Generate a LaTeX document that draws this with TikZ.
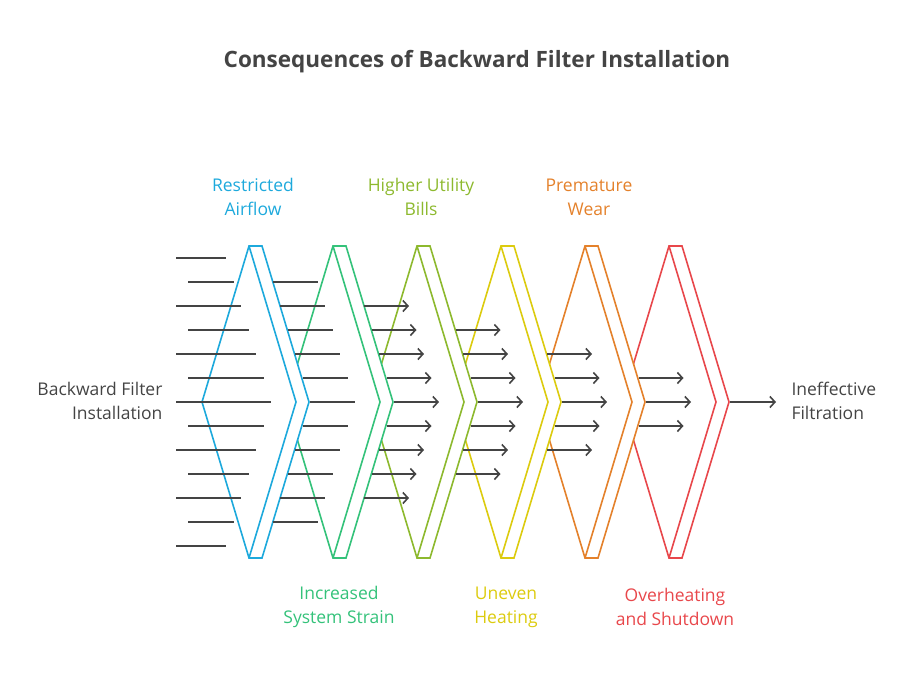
\documentclass[tikz,border=0pt]{standalone}
\usepackage{fontspec}
\setmainfont{Open Sans}
\usetikzlibrary{arrows.meta}
\definecolor{cB}{HTML}{1DA9DC}
\definecolor{cG}{HTML}{34C27A}
\definecolor{cL}{HTML}{8DB92E}
\definecolor{cY}{HTML}{DCCB0E}
\definecolor{cO}{HTML}{E4812B}
\definecolor{cR}{HTML}{E8474B}
\definecolor{tx}{HTML}{444444}
\begin{document}
\begin{tikzpicture}[x=1pt,y=-1pt,
  chev/.style={line width=1.6pt,line join=miter,fill=white},
  ln/.style={draw=tx,line width=1.6pt},
  ar/.style={ln,-{Straight Barb[length=5pt,width=11pt,line width=1.6pt]}},
  lab/.style={font=\fontsize{17.5}{24}\selectfont,align=center}]
\useasboundingbox (0,0) rectangle (916,678);
\node[font=\bfseries\fontsize{22.5}{26}\selectfont,text=tx] (title) at (477,62) {Consequences of Backward Filter Installation};
% chevrons, right to left
\foreach \k/\c in {5/cR,4/cO,3/cY,2/cL,1/cG,0/cB}{
  \pgfmathsetmacro{\xo}{249+84*\k}
  \draw[chev,draw=\c] (\xo,246) -- (\xo+13,246) -- (\xo+60,402) -- (\xo+13,558) -- (\xo,558) -- (\xo-47,402) -- cycle;
  \draw[chev,draw=\c,fill=none] (\xo,246) -- (\xo+47,402) -- (\xo,558);
}
% group 1
\foreach \j in {-6,...,6}{
  \pgfmathsetmacro{\yy}{402+24*\j}
  \pgfmathsetmacro{\xs}{isodd(\j)?188:176}
  \pgfmathsetmacro{\xe}{271-7.5*abs(\j)}
  \draw[ln] (\xs,\yy) -- (\xe,\yy);
}
% group 2
\foreach \j in {-5,...,5}{
  \pgfmathsetmacro{\yy}{402+24*\j}
  \pgfmathsetmacro{\xs}{310-7.5*abs(\j)}
  \draw[ln] (\xs,\yy) -- (\xs+45,\yy);
}
% groups with arrows
\foreach \k/\n in {2/4,3/3,4/2,5/1}{
  \foreach \j in {-\n,...,\n}{
    \pgfmathsetmacro{\yy}{402+24*\j}
    \pgfmathsetmacro{\xs}{310+84*(\k-1)-7.5*abs(\j)}
    \draw[ar] (\xs,\yy) -- (\xs+45,\yy);
  }
}
\coordinate (a0) at (730,402);
\coordinate (a1) at (776,402);
\draw[ar] (a0) -- (a1);
\node[lab,text=cB] (l1) at (253,197) {Restricted\\Airflow};
\node[lab,text=cL] (l3) at (421,197) {Higher Utility\\Bills};
\node[lab,text=cO] (l5) at (589,197) {Premature\\Wear};
\node[lab,text=cG] (l2) at (339,607) {Increased\\System Strain};
\node[lab,text=cY] (l4) at (506,607) {Uneven\\Heating};
\node[lab,text=cR] (l6) at (675,607) {Overheating\\and Shutdown};
\node[lab,text=tx,align=right,anchor=east] (src) at (166,401) {Backward Filter\\Installation};
\node[lab,text=tx,align=left,anchor=west] (dst) at (788,401) {Ineffective\\Filtration};
\end{tikzpicture}
\end{document}
